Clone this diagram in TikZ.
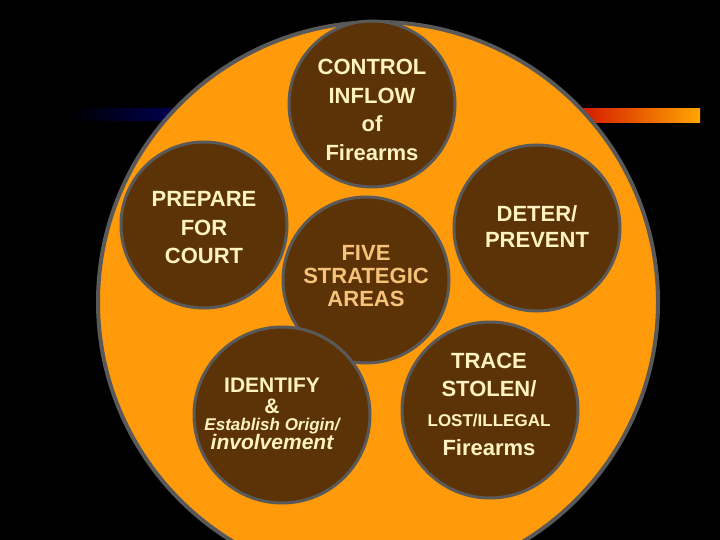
\documentclass[tikz,border=0pt]{standalone}
\usepackage{fontspec}
\setmainfont{Liberation Sans}
\begin{document}
\begin{tikzpicture}[x=1pt,y=-1pt,
  small/.style={circle,draw=gray!70!black,line width=3pt,fill=brownc,minimum size=166pt,inner sep=0pt},
  lab/.style={align=center,text=creamc,font=\fontsize{22}{28.5}\selectfont\bfseries},
  ln/.style={text=creamc,inner sep=0pt,anchor=base}]
\definecolor{brownc}{HTML}{5C3306}
\definecolor{orangec}{HTML}{FF9A0A}
\definecolor{creamc}{HTML}{FFF3C4}
\definecolor{fivec}{HTML}{F7C27A}
\fill[black] (0,0) rectangle (720,540);
\useasboundingbox (0,0) rectangle (720,540);
\shade[left color=black, right color=blue!40!black] (70,109) rectangle (200,121);
\shade[left color=red!80!black, right color=orange!70!yellow] (560,109) rectangle (700,123);
\begin{scope}
\clip (0,0) rectangle (720,540);
\node[circle,draw=gray!70!black,line width=4pt,fill=orangec,minimum size=560pt] (big) at (378,302) {};
\end{scope}
\node[small] (control) at (372,104) {};
\node[lab] at (372,110) {CONTROL\\INFLOW\\of\\Firearms};
\node[small] (prepare) at (204,225) {};
\node[lab] at (204,228) {PREPARE\\FOR\\COURT};
\node[small] (five) at (366,280) {};
\node[lab,text=fivec,font=\fontsize{22}{23}\selectfont\bfseries] at (366,276) {FIVE\\STRATEGIC\\AREAS};
\node[small] (deter) at (537,228) {};
\node[lab,font=\fontsize{22}{26}\selectfont\bfseries] at (537,227) {DETER/\\PREVENT};
\node[small,minimum size=176pt] (identify) at (282,415) {};
\node[ln,font=\fontsize{21}{24}\selectfont\bfseries] (id1) at (272,392) {IDENTIFY};
\node[ln,font=\fontsize{21}{24}\selectfont\bfseries] (id2) at (272,413) {\&};
\node[ln,font=\fontsize{17}{20}\selectfont\bfseries\itshape] (id3) at (272,430) {Establish Origin/};
\node[ln,font=\fontsize{21}{24}\selectfont\bfseries\itshape] (id4) at (272,449) {involvement};
\node[small,minimum size=176pt] (trace) at (490,410) {};
\node[ln,font=\fontsize{22}{24}\selectfont\bfseries] (tr1) at (489,368) {TRACE};
\node[ln,font=\fontsize{22}{24}\selectfont\bfseries] (tr2) at (489,396) {STOLEN/};
\node[ln,font=\fontsize{17}{20}\selectfont\bfseries] (tr3) at (489,426) {LOST/ILLEGAL};
\node[ln,font=\fontsize{22}{24}\selectfont\bfseries] (tr4) at (489,455) {Firearms};
\end{tikzpicture}
\end{document}
